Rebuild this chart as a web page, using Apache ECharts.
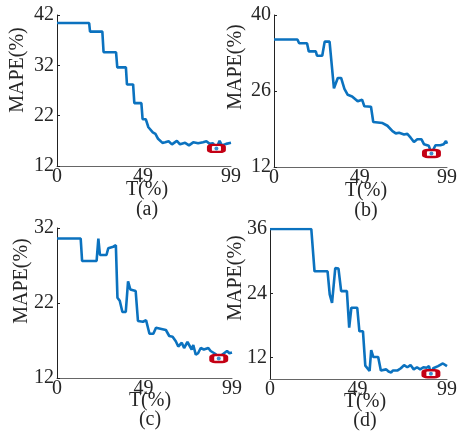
<!DOCTYPE html>
<html>
<head>
<meta charset="utf-8">
<script src="https://cdn.jsdelivr.net/npm/echarts@6/dist/echarts.min.js"></script>
<style>
html,body{margin:0;padding:0;background:#fff;}
#chart{width:460px;height:433px;}
</style>
</head>
<body>
<div id="chart"></div>
<script>
// Panel (a)
const tA = [0,18.3,18.8,25.8,26.5,33.6,34.3,39.2,39.8,43.3,44,48,48.7,50.5,52,54.5,56,57.5,60,61.6,63.5,65.4,68.2,70,72.9,75.1,77.5,80.3,83.1,85,86.9,88.7,90.7,92.5,93.8,96.2,99];
const mA = [40.4,40.4,38.7,38.7,34.6,34.6,31.6,31.6,28.2,28.2,24.5,24.5,21.3,21.3,19.7,18.7,18.4,17.4,16.6,16.7,16.9,16.3,17.0,16.3,16.6,16.1,16.7,16.5,16.7,16.9,16.4,16.5,15.5,17.0,16.1,16.4,16.6];
// Panel (b)
const tB = [0,13.4,14.4,18.9,19.9,23.9,24.6,27.6,29,31.8,34.3,36.5,38.4,40.3,42.2,44.7,47.9,50.4,51.7,55.5,56.8,62.1,64.9,67.8,69.7,71.6,74.4,76.3,78.2,80.1,82,84.4,85.8,88.6,90.1,92.4,95.2,97.1,98.4,99];
const mB = [35.5,35.5,34.8,34.8,33.3,33.3,32.5,32.5,35.1,35.1,26.5,28.4,28.4,26.4,25.3,25.0,24.1,24.4,23.2,23.1,20.3,20.1,19.6,18.6,18.2,18.3,18.0,18.1,17.4,16.6,17.1,17.1,16.2,15.9,14.5,16.0,16.0,16.2,16.8,16.3];
// Panel (c)
const tC = [0,13.4,14.2,22.4,23.4,24.3,28,29,31.8,33.3,34.2,35.5,37,38.9,40.2,41.5,44.5,45.8,48.6,50.4,52.3,54.5,56,61.6,63.5,65.4,67.2,68.6,70.6,71.9,73.8,76.2,77.1,78.5,79.8,81.3,83.1,85.6,86.9,89.7,91.5,93.4,96.2,97.5,99];
const mC = [30.6,30.6,27.6,27.6,30.6,28.4,28.4,29.3,29.5,29.7,22.7,22.3,20.8,20.8,24.9,23.8,23.6,19.6,19.5,19.7,17.9,17.9,18.7,18.4,17.6,17.5,16.9,16.2,16.7,16.0,16.8,15.8,16.4,15.1,15.3,16.0,15.8,16.0,15.6,15.2,14.6,15.1,15.6,15.3,15.4];
// Panel (d)
const tD = [0,23.1,24.9,32.2,33.4,34.7,35.8,36.5,38.3,39.8,43,44.3,45.5,48.8,50,52,53.3,55.7,56.6,57.8,60.5,62,65,66.3,67.8,68.7,71.4,73.2,75,76.8,78.6,80.4,82.2,84,85.8,87.6,88.9,90,91.3,94,96.7,99];
const mD = [36,36,28.1,28.1,23.8,22.2,22.4,28.7,28.6,24.4,24.4,17.6,21.3,21.3,16.9,16.9,10.5,9.5,13.4,12.1,12.1,9.6,9.8,9.4,9.2,9.6,9.6,10.0,10.6,10.2,10.6,9.8,10.2,9.8,10.2,10.1,10.4,9.0,10.0,10.4,10.9,10.4];

// Minimum points (red boxes)
const minT = [90.7, 90.1, 91.5, 90];
const minM = [15.5, 14.5, 14.6, 9.0];

// Axis ranges and ticks
const xTicks = [0, 49, 99];
const yMins = [12, 12, 12, 8];
const yMaxs = [42, 40, 32, 36];
const yTicks = [[12,22,32,42],[12,26,40],[12,22,32],[12,24,36]];
const panelLetters = ['(a)','(b)','(c)','(d)'];
const xName = 'T(%)';
const yName = 'MAPE(%)';

const tS = [tA, tB, tC, tD];
const mS = [mA, mB, mC, mD];

const FONT = '"Liberation Serif", "DejaVu Serif", serif';
const TXT = '#262626';
const grids = [
  {left:57, top:15, width:174, height:151},
  {left:274, top:15, width:174, height:152},
  {left:57, top:228, width:175, height:150},
  {left:270, top:229, width:183, height:150}
];

const xAxes = grids.map((g,i)=>({
  gridIndex:i, type:'value', min:0, max:99,
  axisLine:{show:true, onZero:false, lineStyle:{color:'#666', width:1}},
  axisTick:{show:false},
  splitLine:{show:false},
  axisLabel:{customValues:xTicks, fontFamily:FONT, fontSize:20, color:TXT, margin:1}
}));
const yAxes = grids.map((g,i)=>({
  gridIndex:i, type:'value', min:yMins[i], max:yMaxs[i],
  axisLine:{show:true, onZero:false, lineStyle:{color:'#222', width:1}},
  axisTick:{show:true, inside:true, length:3, customValues:yTicks[i], lineStyle:{color:'#222'}},
  splitLine:{show:false},
  axisLabel:{customValues:yTicks[i], fontFamily:FONT, fontSize:20, color:TXT, margin:3}
}));

const series = [];
for (let i=0;i<4;i++){
  series.push({
    type:'line', xAxisIndex:i, yAxisIndex:i,
    data: tS[i].map((t,k)=>[t, mS[i][k]]),
    showSymbol:false, symbol:'none', clip:true, z:2,
    lineStyle:{color:'#0B72BF', width:2.6}
  });
  series.push({
    type:'scatter', xAxisIndex:i, yAxisIndex:i,
    data:[[minT[i], minM[i]]],
    symbol:'roundRect', symbolSize:[14,7], z:3,
    itemStyle:{color:'#ffffff', borderColor:'#C40014', borderWidth:3.5, opacity:1}
  });
  series.push({
    type:'scatter', xAxisIndex:i, yAxisIndex:i,
    data:[[minT[i], minM[i]]],
    symbol:'circle', symbolSize:4, z:4,
    itemStyle:{color:'#0B72BF'}
  });
}

const yNamePos = [[18,70],[236,67],[22,281],[236,278]];
const xNamePos = [[147,190],[366,191],[150,401],[365,402]];
const letterPos = [[147,210],[366,211],[150,420],[365,421]];
const graphic = [];
for (let i=0;i<4;i++){
  graphic.push({type:'text', x:yNamePos[i][0], y:yNamePos[i][1], rotation:Math.PI/2,
    style:{text:yName, font:'20px '+FONT, fill:TXT, textAlign:'center', textVerticalAlign:'middle'}});
  graphic.push({type:'text', x:xNamePos[i][0], y:xNamePos[i][1],
    style:{text:xName, font:'20px '+FONT, fill:TXT, textAlign:'center', textVerticalAlign:'middle'}});
  graphic.push({type:'text', x:letterPos[i][0], y:letterPos[i][1],
    style:{text:panelLetters[i], font:'20px '+FONT, fill:TXT, textAlign:'center', textVerticalAlign:'middle'}});
}

const chart = echarts.init(document.getElementById('chart'), null, {renderer:'canvas'});
chart.setOption({
  animation:false,
  backgroundColor:'#ffffff',
  grid:grids, xAxis:xAxes, yAxis:yAxes, series:series, graphic:graphic
});
</script>
</body>
</html>
